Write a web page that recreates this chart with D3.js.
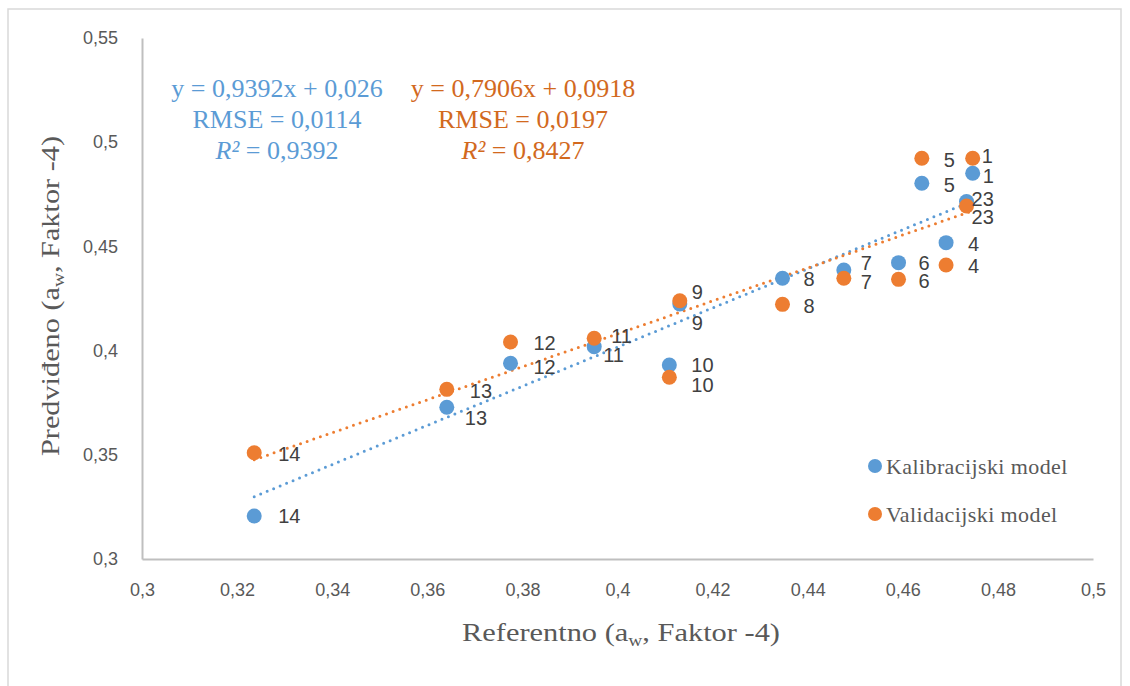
<!DOCTYPE html>
<meta charset="utf-8">
<style>
  body { margin: 0; background: #fff; }
  svg { display: block; }
  .tick text { font: 18px "Liberation Sans", sans-serif; fill: #595959; }
  .lbl { font: 20px "Liberation Sans", sans-serif; fill: #404040; }
  .title { font-family: "Liberation Serif", serif; font-size: 25px; fill: #595959; }
  .eq { font-family: "Liberation Serif", serif; font-size: 26px; text-anchor: middle; }
  .legend text { font-family: "Liberation Serif", serif; font-size: 22px; letter-spacing: 0.4px; fill: #595959; }
</style>
<svg width="1130" height="686"></svg>
<script src="https://d3js.org/d3.v7.min.js"></script>
<script>

// point ids (labels) and values
var ids = ["1", "23", "4", "5", "6", "7", "8", "9", "10", "11", "12", "13", "14"];
var referentno = [0.4747, 0.4734, 0.4691, 0.4640, 0.4591, 0.4476, 0.4347, 0.4131, 0.4109, 0.3951, 0.3775, 0.3641, 0.3236];
var kalibracija = [0.4851, 0.4715, 0.4518, 0.4803, 0.4422, 0.4387, 0.4347, 0.4224, 0.3931, 0.4019, 0.3939, 0.3728, 0.3206];
var validacija = [0.4923, 0.4694, 0.4411, 0.4923, 0.4342, 0.4347, 0.4222, 0.4239, 0.3872, 0.4059, 0.4041, 0.3814, 0.3510];

var seriesNames = ["Kalibracijski model", "Validacijski model"];
var slopes = [0.9392, 0.7906];
var intercepts = [0.026, 0.0918];
var eqLines = [
  ["y = 0,9392x + 0,026", "RMSE = 0,0114", "0,9392"],
  ["y = 0,7906x + 0,0918", "RMSE = 0,0197", "0,8427"]
];

var xTicks = [0.3, 0.32, 0.34, 0.36, 0.38, 0.4, 0.42, 0.44, 0.46, 0.48, 0.5];
var yTicks = [0.3, 0.35, 0.4, 0.45, 0.5, 0.55];

// where each data label sits relative to its dot (moved by hand in the original)
var nudge = [
  {"1": [10, 3], "23": [5, -3], "4": [22, 1], "5": [22, 2], "6": [20, 0], "7": [17, -7], "8": [21, 1],
   "9": [12, 19], "10": [22, 0], "11": [9, 8], "12": [23, 3], "13": [18, 11], "14": [24, 0]},
  {"1": [9, -2], "23": [5, 11], "4": [22, 1], "5": [22, 2], "6": [20, 1], "7": [17, 4], "8": [21, 1],
   "9": [12, -9], "10": [22, 8], "11": [17, -3], "12": [23, 1], "13": [23, 1], "14": [24, 1]}
];

var colors = ["#5B9BD5", "#ED7D31"];
var textColors = ["#5B9BD5", "#D2691E"];

var svg = d3.select("svg");

var x = d3.scaleLinear().domain([0.3, 0.5]).range([142, 1093]);
var y = d3.scaleLinear().domain([0.3, 0.55]).range([559, 38]);

var fmt = function(d) { return String(+d.toFixed(2)).replace(".", ","); };

// outer chart frame
svg.append("rect")
    .attr("x", 8).attr("y", 9).attr("width", 1113).attr("height", 700)
    .attr("fill", "none").attr("stroke", "#D9D9D9").attr("stroke-width", 1.5);

var xAxis = svg.append("g")
    .attr("transform", "translate(0," + y(0.3) + ")")
    .call(d3.axisBottom(x).tickValues(xTicks).tickFormat(fmt).tickSize(0).tickPadding(24));

var yAxis = svg.append("g")
    .attr("transform", "translate(" + x(0.3) + ",0)")
    .call(d3.axisLeft(y).tickValues(yTicks).tickFormat(fmt).tickSize(0).tickPadding(24));

svg.selectAll(".domain").attr("stroke", "#BFBFBF").attr("stroke-width", 2);
xAxis.selectAll(".tick text").attr("dy", "0.7em");

// axis titles
var xt = svg.append("text").attr("class", "title")
    .attr("x", 621).attr("y", 641)
    .attr("text-anchor", "middle")
    .attr("textLength", 318).attr("lengthAdjust", "spacingAndGlyphs");
xt.append("tspan").text("Referentno (a");
xt.append("tspan").attr("font-size", "16px").attr("dy", 5).text("w");
xt.append("tspan").attr("dy", -5).text(", Faktor -4)");

var yt = svg.append("text").attr("class", "title")
    .attr("transform", "translate(59,296) rotate(-90)")
    .attr("text-anchor", "middle")
    .attr("textLength", 320).attr("lengthAdjust", "spacingAndGlyphs");
yt.append("tspan").text("Predviđeno (a");
yt.append("tspan").attr("font-size", "16px").attr("dy", 5).text("w");
yt.append("tspan").attr("dy", -5).text(", Faktor -4)");

var series = [kalibracija, validacija].map(function(vals, s) {
  return ids.map(function(id, i) { return {id: id, x: referentno[i], y: vals[i], s: s}; });
});

// trendlines (dotted), over the range of the reference values
var xExt = d3.extent(referentno);
series.forEach(function(pts, s) {
  var line = xExt.map(function(v) { return [v, slopes[s] * v + intercepts[s]]; });
  svg.append("path")
      .attr("d", d3.line().x(function(d) { return x(d[0]); }).y(function(d) { return y(d[1]); })(line))
      .attr("fill", "none")
      .attr("stroke", colors[s])
      .attr("stroke-width", 3)
      .attr("stroke-linecap", "round")
      .attr("stroke-dasharray", "0 7");
});

// markers
series.forEach(function(pts, s) {
  svg.append("g").selectAll("circle")
    .data(pts)
    .enter().append("circle")
      .attr("cx", function(d) { return x(d.x); })
      .attr("cy", function(d) { return y(d.y); })
      .attr("r", 7.5)
      .attr("fill", colors[s]);
});

// data labels
series.forEach(function(pts, s) {
  svg.append("g").selectAll("text")
    .data(pts)
    .enter().append("text")
      .attr("class", "lbl")
      .attr("x", function(d) { return x(d.x) + nudge[s][d.id][0]; })
      .attr("y", function(d) { return y(d.y) + nudge[s][d.id][1]; })
      .attr("dy", "0.36em")
      .text(function(d) { return d.id; });
});

// trendline equations
var eqCenters = [277, 523];
eqLines.forEach(function(lines, s) {
  var g = svg.append("g").attr("fill", textColors[s]);
  g.append("text").attr("class", "eq").attr("x", eqCenters[s]).attr("y", 97).text(lines[0]);
  g.append("text").attr("class", "eq").attr("x", eqCenters[s]).attr("y", 128).text(lines[1]);
  var r2 = g.append("text").attr("class", "eq").attr("x", eqCenters[s]).attr("y", 159);
  r2.append("tspan").attr("font-style", "italic").text("R²");
  r2.append("tspan").text(" = " + lines[2]);
});

// legend
var legend = svg.append("g").attr("class", "legend");
seriesNames.forEach(function(name, s) {
  var ly = 466 + s * 48;
  legend.append("circle").attr("cx", 875).attr("cy", ly).attr("r", 7).attr("fill", colors[s]);
  legend.append("text").attr("x", 886).attr("y", ly).attr("dy", "0.35em").text(name);
});

</script>
